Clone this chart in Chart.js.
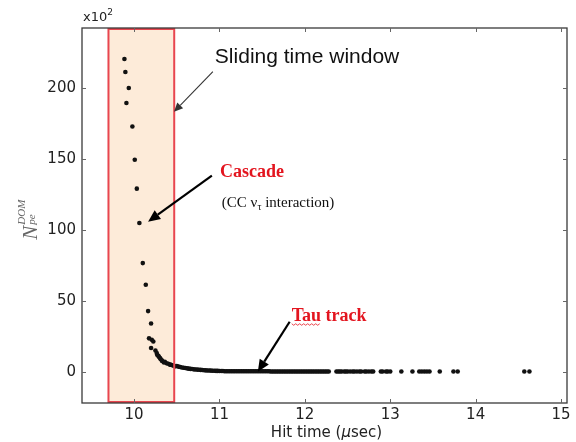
<!DOCTYPE html>
<html>
<head>
<meta charset="utf-8">
<script src="https://cdn.jsdelivr.net/npm/chart.js@4/dist/chart.umd.min.js"></script>
<style>
html,body{margin:0;padding:0;background:#fff;}
#wrap{position:relative;width:576px;height:442px;}
</style>
</head>
<body>
<div id="wrap"><canvas id="c" width="576" height="442"></canvas></div>
<script>
// ---- data (hit time in microseconds, N_pe^DOM in units of 10^2) ----
const cascadeTimes = [9.887,9.898,9.910,9.938,9.980,10.008,10.032,10.062,10.102,10.137,10.164,10.175,10.199,10.207,10.225,10.199,10.25,10.265,10.27,10.284,10.29,10.304,10.31,10.324,10.33,10.35,10.36,10.38,10.40,10.42,10.43,10.45,10.47,10.48,10.50];
const cascadeCharges = [220.2,211,189.2,199.8,172.7,149.3,128.9,104.7,76.5,61.3,42.7,23.5,34,22.5,21.3,16.7,15,13.2,12,11.3,10.5,9.6,9,8,7.5,6.5,7,6,5.6,5,4.9,4.5,4.2,3.8,4];
const decayTimes = [10.52,10.54,10.56,10.58,10.60,10.62,10.64,10.66,10.68,10.70,10.72,10.74,10.76,10.78,10.80,10.82,10.84,10.86,10.88,10.90,10.92,10.94,10.96,10.98];
const decayCharges = [3.6,3.3,3.0,2.8,2.6,2.4,2.2,2.0,1.9,1.7,1.6,1.5,1.4,1.3,1.2,1.1,1.0,0.9,0.9,0.8,0.7,0.7,0.6,0.6];
const trackTimes = [11.00,11.02,11.04,11.06,11.08,11.10,11.12,11.14,11.16,11.18,
  11.20,11.22,11.24,11.26,11.28,11.30,11.32,11.34,11.36,11.38,
  11.40,11.42,11.44,11.46,11.48,11.50,11.52,11.54,11.56,11.58,
  11.60,11.62,11.64,11.66,11.68,11.70,11.72,11.74,11.76,11.78,
  11.80,11.82,11.84,11.86,11.88,11.90,11.92,11.94,11.96,11.98,
  12.00,12.02,12.04,12.06,12.08,12.10,12.12,12.14,12.16,12.18,
  12.20,12.22,12.24,12.26,12.28];
const trackCharges = [0.5,0.5,0.5,0.4,0.4,0.4,0.4,0.4,0.3,0.3,
  0.3,0.3,0.3,0.3,0.3,0.3,0.3,0.3,0.3,0.3,
  0.3,0.3,0.3,0.3,0.3,0.3,0.3,0.3,0.3,0.3,
  0.2,0.2,0.2,0.2,0.2,0.2,0.2,0.2,0.2,0.2,
  0.2,0.2,0.2,0.2,0.2,0.2,0.2,0.2,0.2,0.2,
  0.2,0.2,0.2,0.2,0.2,0.2,0.2,0.2,0.2,0.2,
  0.2,0.2,0.2,0.2,0.2];
const lateTimes = [12.37,12.39,12.41,12.43,12.46,12.48,12.50,12.53,12.56,12.58,
  12.61,12.64,12.66,12.70,12.72,12.75,12.78,12.80,12.89,12.91,
  12.95,12.97,13.00,13.13,13.26,13.34,13.37,13.40,13.43,13.46,
  13.58,13.74,13.79,14.57,14.63];
const lateCharges = [0.2,0.2,0.2,0.2,0.2,0.2,0.2,0.2,0.2,0.2,
  0.2,0.2,0.2,0.2,0.2,0.2,0.2,0.2,0.2,0.2,
  0.2,0.2,0.2,0.2,0.2,0.2,0.2,0.2,0.2,0.2,
  0.2,0.2,0.2,0.2,0.2];
const xTicks = [10,11,12,13,14,15];
const yTicks = [0,50,100,150,200];
const windowRange = [9.70, 10.47];

function pairs(ts, ns){ const out=[]; for(let i=0;i<Math.min(ts.length,ns.length);i++) out.push({x:ts[i],y:ns[i]}); return out; }
const allPoints = [].concat(pairs(cascadeTimes,cascadeCharges),pairs(decayTimes,decayCharges),pairs(trackTimes,trackCharges),pairs(lateTimes,lateCharges));

const AXC = '#3a3a3a';

function arrow(ctx, x1,y1,x2,y2,w,head,color){
  ctx.save();
  ctx.strokeStyle=color; ctx.fillStyle=color; ctx.lineWidth=w;
  const a=Math.atan2(y2-y1,x2-x1);
  const bx=x2-head*Math.cos(a), by=y2-head*Math.sin(a);
  ctx.beginPath(); ctx.moveTo(x1,y1); ctx.lineTo(bx,by); ctx.stroke();
  ctx.beginPath();
  ctx.moveTo(x2,y2);
  ctx.lineTo(bx+head*0.45*Math.cos(a+Math.PI/2), by+head*0.45*Math.sin(a+Math.PI/2));
  ctx.lineTo(bx+head*0.45*Math.cos(a-Math.PI/2), by+head*0.45*Math.sin(a-Math.PI/2));
  ctx.closePath(); ctx.fill();
  ctx.restore();
}

const decor = {
  id:'decor',
  beforeDatasetsDraw(chart){
    const {ctx, chartArea:a, scales:{x}} = chart;
    const l = x.getPixelForValue(windowRange[0]), r = x.getPixelForValue(windowRange[1]);
    ctx.save();
    ctx.fillStyle='#fdebd9';
    ctx.fillRect(l,a.top,r-l,a.bottom-a.top);
    ctx.restore();
  },
  afterDatasetsDraw(chart){
    const {ctx, chartArea:a, scales:{x,y}} = chart;
    const X=v=>x.getPixelForValue(v), Y=v=>y.getPixelForValue(v);
    // window outline
    const l = X(windowRange[0]), r = X(windowRange[1]);
    ctx.save();
    ctx.strokeStyle='#e8464f'; ctx.lineWidth=2;
    ctx.strokeRect(l,a.top+1,r-l,a.bottom-a.top-2);
    ctx.restore();
    // frame
    ctx.save();
    ctx.strokeStyle=AXC; ctx.lineWidth=1.3;
    ctx.strokeRect(a.left,a.top,a.right-a.left,a.bottom-a.top);
    // inner ticks
    ctx.lineWidth=1; ctx.strokeStyle='#666';
    ctx.beginPath();
    xTicks.forEach(v=>{const p=Math.round(X(v))+0.5; ctx.moveTo(p,a.bottom); ctx.lineTo(p,a.bottom-4); ctx.moveTo(p,a.top); ctx.lineTo(p,a.top+4);});
    yTicks.forEach(v=>{const p=Math.round(Y(v))+0.5; ctx.moveTo(a.left,p); ctx.lineTo(a.left+4,p); ctx.moveTo(a.right,p); ctx.lineTo(a.right-4,p);});
    ctx.stroke();
    ctx.restore();

    // multiplier label
    ctx.save();
    ctx.fillStyle='#222'; ctx.textBaseline='alphabetic';
    ctx.font='13px "DejaVu Sans"';
    ctx.fillText('x10', a.left+1, a.top-7);
    const w=ctx.measureText('x10').width;
    ctx.font='9px "DejaVu Sans"';
    ctx.fillText('2', a.left+1+w, a.top-13);
    ctx.restore();

    // x axis title with italic mu
    ctx.save();
    ctx.fillStyle='#222'; ctx.textBaseline='middle';
    const parts=[['Hit time (','15px "DejaVu Sans"'],['μ','italic 15px "DejaVu Sans"'],['sec)','15px "DejaVu Sans"']];
    let tot=0; parts.forEach(p=>{ctx.font=p[1]; tot+=ctx.measureText(p[0]).width;});
    let cx=(a.left+a.right)/2 - tot/2 + 2;
    parts.forEach(p=>{ctx.font=p[1]; ctx.fillText(p[0],cx,433); cx+=ctx.measureText(p[0]).width;});
    ctx.restore();

    // y axis title N_pe^DOM (rotated)
    ctx.save();
    ctx.translate(37, Y(93));
    ctx.rotate(-Math.PI/2);
    ctx.fillStyle='#666';
    ctx.font='italic 21px "Liberation Serif"';
    ctx.fillText('N', 0, 0);
    const nw=ctx.measureText('N').width;
    ctx.font='italic 11px "Liberation Serif"';
    ctx.fillText('DOM', nw+1, -12);
    ctx.fillText('pe', nw+1, -2);
    ctx.restore();

    // annotations
    ctx.save();
    ctx.textBaseline='alphabetic';
    ctx.fillStyle='#111';
    ctx.font='21px "Liberation Sans"';
    ctx.fillText('Sliding time window', X(10.946), Y(217.6));
    arrow(ctx, X(10.923), Y(211.3), X(10.467), Y(183), 1.1, 9, '#333');

    ctx.fillStyle='#e3151f';
    ctx.font='bold 18px "Liberation Serif"';
    ctx.fillText('Cascade', X(11.005), Y(137.3));
    ctx.fillStyle='#111';
    ctx.font='15px "Liberation Serif"';
    let tx=X(11.028), ty=Y(116.2);
    ctx.fillText('(CC ν', tx, ty);
    tx+=ctx.measureText('(CC ν').width;
    ctx.font='10px "Liberation Serif"';
    ctx.fillText('τ', tx, ty+3);
    tx+=ctx.measureText('τ').width;
    ctx.font='15px "Liberation Serif"';
    ctx.fillText(' interaction)', tx, ty);
    arrow(ctx, X(10.911), Y(138), X(10.164), Y(105.6), 2.2, 12, '#000');

    ctx.fillStyle='#e3151f';
    ctx.font='bold 18px "Liberation Serif"';
    const tauX=X(11.846), tauY=Y(35.9);
    ctx.fillText('Tau track', tauX, tauY);
    const tw=ctx.measureText('Tau').width;
    ctx.strokeStyle='#e3151f'; ctx.lineWidth=0.8;
    ctx.beginPath();
    for(let i=0;i<=Math.floor(tw/2);i++){ const px=tauX+i*2, py=tauY+3+(i%2?1.5:0); if(i===0) ctx.moveTo(px,py); else ctx.lineTo(px,py); }
    ctx.stroke();
    arrow(ctx, X(11.822), Y(35.2), X(11.449), Y(0), 2.2, 12, '#000');
    ctx.restore();
  }
};

new Chart(document.getElementById('c'), {
  type:'scatter',
  data:{datasets:[{data:allPoints, backgroundColor:'#111', borderColor:'#111', borderWidth:0, pointRadius:2.3, pointHoverRadius:2.3}]},
  options:{
    responsive:false, animation:false, events:[],
    layout:{padding:{left:0,top:28,right:9,bottom:0}},
    plugins:{legend:{display:false}, tooltip:{enabled:false}},
    scales:{
      x:{type:'linear', min:9.39, max:15.07,
        afterBuildTicks:s=>{s.ticks=xTicks.map(v=>({value:v}));},
        afterFit:s=>{s.height=39;},
        grid:{display:false, drawTicks:false}, border:{display:false},
        ticks:{color:'#222', font:{family:'DejaVu Sans', size:15}, padding:3, maxRotation:0},
        title:{display:false}
      },
      y:{type:'linear', min:-22, max:242,
        afterBuildTicks:s=>{s.ticks=yTicks.map(v=>({value:v}));},
        afterFit:s=>{s.width=82;},
        grid:{display:false, drawTicks:false}, border:{display:false},
        ticks:{color:'#222', font:{family:'DejaVu Sans', size:15}, padding:6}
      }
    }
  },
  plugins:[decor]
});
</script>
</body>
</html>
